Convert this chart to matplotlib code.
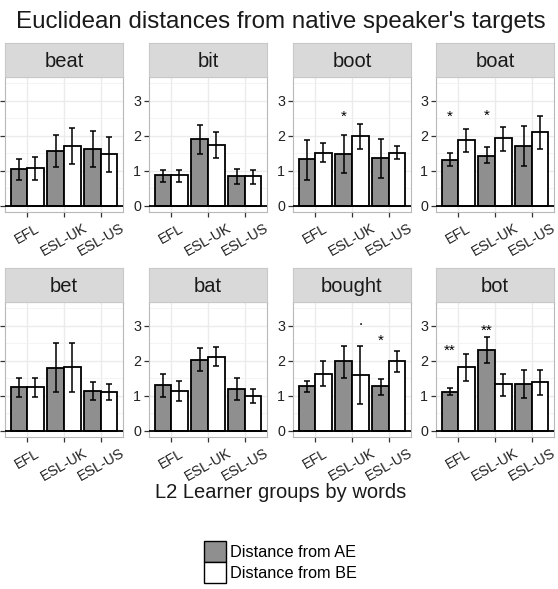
import numpy as np
import matplotlib.pyplot as plt
from matplotlib.patches import Patch

plt.rcParams['font.family'] = ['Liberation Sans', 'DejaVu Sans']

## Data
words = ['beat', 'bit', 'boot', 'boat', 'bet', 'bat', 'bought', 'bot']
groups = ['EFL', 'ESL-UK', 'ESL-US']

# mean distance from AE / BE per word, per group
ae_mean = {
    'beat':   [1.05, 1.56, 1.61],
    'bit':    [0.87, 1.90, 0.84],
    'boot':   [1.35, 1.49, 1.37],
    'boat':   [1.32, 1.42, 1.70],
    'bet':    [1.24, 1.79, 1.14],
    'bat':    [1.31, 2.03, 1.20],
    'bought': [1.28, 2.00, 1.27],
    'bot':    [1.12, 2.31, 1.33],
}
be_mean = {
    'beat':   [1.08, 1.72, 1.48],
    'bit':    [0.87, 1.75, 0.84],
    'boot':   [1.52, 1.99, 1.52],
    'boat':   [1.88, 1.94, 2.12],
    'bet':    [1.24, 1.81, 1.10],
    'bat':    [1.14, 2.10, 1.00],
    'bought': [1.62, 1.60, 1.98],
    'bot':    [1.81, 1.33, 1.39],
}
# error bar lower / upper
ae_lo = {
    'beat': [0.75, 1.10, 1.11], 'bit': [0.67, 1.47, 0.61], 'boot': [0.74, 0.94, 0.80],
    'boat': [1.13, 1.22, 1.13], 'bet': [0.98, 1.10, 0.87], 'bat': [0.96, 1.70, 0.89],
    'bought': [1.12, 1.50, 1.03], 'bot': [1.01, 1.93, 0.93],
}
ae_hi = {
    'beat': [1.34, 2.02, 2.14], 'bit': [1.03, 2.30, 1.04], 'boot': [1.89, 2.02, 1.90],
    'boat': [1.52, 1.68, 2.29], 'bet': [1.50, 2.50, 1.38], 'bat': [1.62, 2.36, 1.50],
    'bought': [1.41, 2.43, 1.49], 'bot': [1.22, 2.68, 1.74],
}
be_lo = {
    'beat': [0.75, 1.19, 0.96], 'bit': [0.69, 1.37, 0.63], 'boot': [1.25, 1.62, 1.33],
    'boat': [1.54, 1.57, 1.63], 'bet': [0.98, 1.10, 0.87], 'bat': [0.86, 1.84, 0.79],
    'bought': [1.27, 0.77, 1.67], 'bot': [1.41, 1.00, 1.03],
}
be_hi = {
    'beat': [1.38, 2.23, 1.96], 'bit': [1.03, 2.12, 1.02], 'boot': [1.78, 2.34, 1.70],
    'boat': [2.18, 2.24, 2.57], 'bet': [1.50, 2.50, 1.33], 'bat': [1.41, 2.38, 1.20],
    'bought': [1.98, 2.41, 2.29], 'bot': [2.19, 1.63, 1.74],
}
# significance labels: (word, group index, series, label, y)
sig_marks = [
    ('boot', 1, 'AE', '*', 2.55),
    ('boat', 0, 'AE', '*', 2.55),
    ('boat', 1, 'AE', '*', 2.58),
    ('bought', 1, 'BE', '.', 3.14),
    ('bought', 2, 'AE', '*', 2.58),
    ('bot', 0, 'AE', '**', 2.27),
    ('bot', 1, 'AE', '**', 2.84),
]

## Layout (pixels of a 558x589 canvas)
W, H = 558, 589
fig = plt.figure(figsize=(W / 100, H / 100), dpi=100)
col_left = [5, 149, 293, 436]
pan_w = 118
row_top = [77, 302]
pan_h = 135
strip_h = 34

x = np.arange(1, 4)
bw = 0.45
grey_fill = '#8f8f8f'

for k, w in enumerate(words):
    r, c = divmod(k, 4)
    left = col_left[c] / W
    bottom = 1 - (row_top[r] + pan_h) / H
    ax = fig.add_axes([left, bottom, pan_w / W, pan_h / H])

    ax.bar(x - bw / 2, ae_mean[w], bw, color=grey_fill, edgecolor='black', linewidth=1.3, zorder=3)
    ax.bar(x + bw / 2, be_mean[w], bw, color='white', edgecolor='black', linewidth=1.3, zorder=3)
    am = np.array(ae_mean[w]); bm = np.array(be_mean[w])
    ax.errorbar(x - bw / 2, am, yerr=[am - np.array(ae_lo[w]), np.array(ae_hi[w]) - am],
                fmt='none', ecolor='black', elinewidth=1.1, capsize=2.5, capthick=1.1, zorder=4)
    ax.errorbar(x + bw / 2, bm, yerr=[bm - np.array(be_lo[w]), np.array(be_hi[w]) - bm],
                fmt='none', ecolor='black', elinewidth=1.1, capsize=2.5, capthick=1.1, zorder=4)
    ax.axhline(0, color='black', linewidth=1.3, zorder=5)

    for (sw, gi, ser, lab, yy) in sig_marks:
        if sw == w:
            xx = x[gi] - bw / 2 if ser == 'AE' else x[gi] + bw / 2
            ax.text(xx, yy, lab, ha='center', va='center', fontsize=11, zorder=6)

    ax.set_xlim(0.4, 3.6)
    ax.set_ylim(-0.175, 3.675)
    ax.set_xticks(x)
    ax.set_xticklabels(groups, rotation=30, ha='center', va='top')
    ax.set_yticks([0, 1, 2, 3])
    ax.set_yticks([0.5, 1.5, 2.5, 3.5], minor=True)
    ax.set_xticks([], minor=True)
    ax.grid(which='major', color='#EBEBEB', linewidth=1.0, zorder=0)
    ax.grid(which='minor', axis='y', color='#F2F2F2', linewidth=0.6, zorder=0)
    ax.set_axisbelow(True)
    ax.tick_params(axis='both', which='major', labelsize=10.3, colors='#333333', length=3.5, width=0.9,
                   labelcolor='#222222', pad=2)
    ax.tick_params(axis='x', pad=3.0)
    ax.tick_params(which='minor', length=0)
    if c == 0:
        # the reference crops these labels off the left edge
        ax.tick_params(axis='y', labelleft=False)
    for s in ax.spines.values():
        s.set_color('#B8B8B8')
        s.set_linewidth(0.8)

    # strip
    sax = fig.add_axes([left, 1 - row_top[r] / H, pan_w / W, strip_h / H])
    sax.set_xticks([]); sax.set_yticks([])
    sax.set_facecolor('#D9D9D9')
    for s in sax.spines.values():
        s.set_color('#C8C8C8')
        s.set_linewidth(0.8)
    sax.text(0.5, 0.45, w, ha='center', va='center', fontsize=14.5, color='#1A1A1A',
             transform=sax.transAxes)

fig.text(281 / W, 1 - 22 / H, "Euclidean distances from native speaker's targets",
         ha='center', va='center', fontsize=17.4, color='#1A1A1A')
fig.text(281 / W, 1 - 493 / H, 'L2 Learner groups by words', ha='center', va='center',
         fontsize=14.5, color='#1A1A1A')

handles = [Patch(facecolor=grey_fill, edgecolor='black', linewidth=1.0),
           Patch(facecolor='white', edgecolor='black', linewidth=1.0)]
fig.legend(handles, ['Distance from AE', 'Distance from BE'], loc='upper left',
           bbox_to_anchor=(193 / W, 1 - 530 / H), frameon=False, fontsize=11.7,
           handlelength=1.35, handleheight=1.6, labelspacing=0.0, handletextpad=0.2,
           borderpad=0.2)

fig.savefig('out.png', dpi=100)
